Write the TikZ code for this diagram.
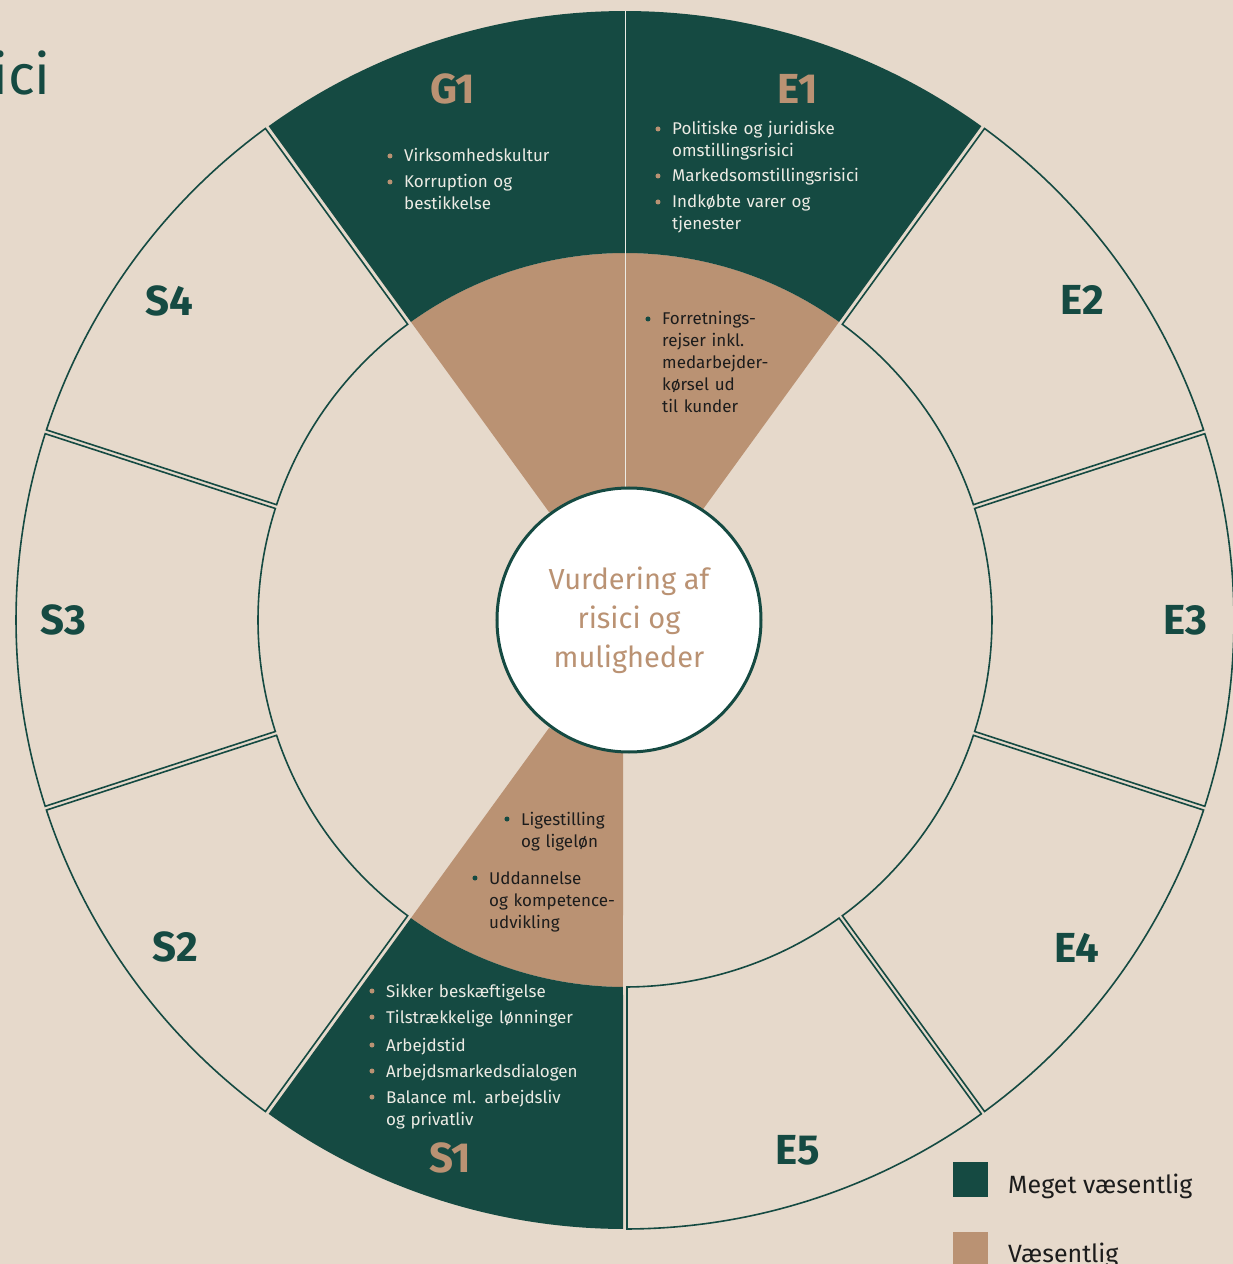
\documentclass[tikz,border=0pt]{standalone}
\usepackage{fontspec}
\setmainfont{Fira Sans}
\usepackage{tikz}
\usetikzlibrary{calc}

\definecolor{bgbeige}{HTML}{E6D9CB}
\definecolor{darkgreen}{HTML}{154A42}
\definecolor{tanbrown}{HTML}{BA9273}
\definecolor{pale}{HTML}{ECEBE4}
\definecolor{ink}{HTML}{1C1C1C}

\tikzset{
    ring/.style={draw=darkgreen,line width=1.6pt,fill=bgbeige},
    sectorname/.style={inner sep=0pt,font=\fontsize{42}{42}\selectfont\bfseries},
    item/.style={anchor=base west,inner sep=0pt,text width=260pt,align=left,
        font=\fontsize{17}{22}\selectfont},
    legendbox/.style={minimum size=35pt,inner sep=0pt}
}

\begin{document}
\begin{tikzpicture}[x=1pt,y=1pt]
    \pgfmathsetmacro{\Ro}{609}
    \pgfmathsetmacro{\Rm}{367}
    \pgfmathsetmacro{\Rc}{132}
    \pgfmathsetmacro{\gap}{2}
    \pgfmathsetmacro{\angO}{asin(\gap/\Ro)}
    \pgfmathsetmacro{\angM}{asin(\gap/\Rm)}
    \pgfmathsetmacro{\angC}{asin(\gap/\Rc)}
    \fill[bgbeige](-625,-644)rectangle(608,620);
    \useasboundingbox(-625,-644)rectangle(608,620);
    % plain outer sectors
    \foreach \a in {18,-18,-54,-90,-162,162,126}
    \draw[ring](\a+\angM:\Rm)--(\a+\angO:\Ro)
        arc[start angle=\a+\angO,end angle=\a+36-\angO,radius=\Ro]
        --(\a+36-\angM:\Rm)
        arc[start angle=\a+36-\angM,end angle=\a+\angM,radius=\Rm]--cycle;
    % coloured sectors
    \foreach \a/\b in {54/126,-126/-90}{
        \fill[tanbrown](\a+\angC:\Rc)--(\a+\angM:\Rm)
            arc[start angle=\a+\angM,end angle=\b-\angM,radius=\Rm]
            --(\b-\angC:\Rc)--cycle;
        \fill[darkgreen](\a+\angM:\Rm)--(\a+\angO:\Ro)
            arc[start angle=\a+\angO,end angle=\b-\angO,radius=\Ro]
            --(\b-\angM:\Rm)
            arc[start angle=\b-\angM,end angle=\a+\angM,radius=\Rm]--cycle;
    }
    \draw[pale,line width=0.8pt](90:\Rc)--(90:\Ro);
    \node[circle,draw=darkgreen,line width=3pt,fill=white,minimum size=264pt,
        inner sep=0pt,text=tanbrown,align=center,font=\fontsize{29}{39}\selectfont]
        (hub) at (4,0) {Vurdering af\\risici og\\muligheder};
    \foreach \ang/\rad/\tex/\col in {108/558/G1/tanbrown,72/558/E1/tanbrown,
        35/558/E2/darkgreen,0/560/E3/darkgreen,-36/558/E4/darkgreen,
        -72/558/E5/darkgreen,-108/566/S1/tanbrown,-144/556/S2/darkgreen,
        180/562/S3/darkgreen,145/556/S4/darkgreen}
        \node[sectorname,text=\col](\tex) at (\ang:\rad) {\tex};
    % items on green
    \foreach \p/\tex [count=\n] in {
        {-221,458}/{Virksomhedskultur},
        {-221,432}/{Korruption og\\bestikkelse},
        {47,485}/{Politiske og juridiske\\omstillingsrisici},
        {47,438}/{Markedsomstillingsrisici},
        {47,412}/{Indkøbte varer og\\tjenester},
        {-239,-377}/{Sikker beskæftigelse},
        {-239,-403}/{Tilstrækkelige lønninger},
        {-239,-431}/{Arbejdstid},
        {-239,-457}/{Arbejdsmarkedsdialogen},
        {-239,-483}/{Balance ml. arbejdsliv\\og privatliv}}
        {\node[item,text=pale](green\n) at (\p) {\tex};
        \fill[tanbrown]($(green\n.base west)+(-14,6)$)circle(2.5);}
    % items on tan
    \foreach \p/\tex [count=\n] in {
        {37,295}/{Forretnings-\\rejser inkl.\\medarbejder-\\kørsel ud\\til kunder},
        {-104,-205}/{Ligestilling\\og ligeløn},
        {-136,-264}/{Uddannelse\\og kompetence-\\udvikling}}
        {\node[item,text=ink](tan\n) at (\p) {\tex};
        \fill[darkgreen]($(tan\n.base west)+(-14,6)$)circle(2.5);}
    % legend
    \node[legendbox,fill=darkgreen](keyA) at (345,-559.5) {};
    \node[legendbox,fill=tanbrown](keyB) at (345,-629.5) {};
    \node[anchor=base west,inner sep=0pt,text=ink,font=\fontsize{25}{25}\selectfont]
        (keyAtext) at (383,-573) {Meget væsentlig};
    \node[anchor=base west,inner sep=0pt,text=ink,font=\fontsize{25}{25}\selectfont]
        (keyBtext) at (383,-642) {Væsentlig};
    \node[anchor=base east,inner sep=0pt,text=darkgreen,font=\fontsize{56}{56}\selectfont]
        (title) at (-574,525) {ici};
\end{tikzpicture}
\end{document}
